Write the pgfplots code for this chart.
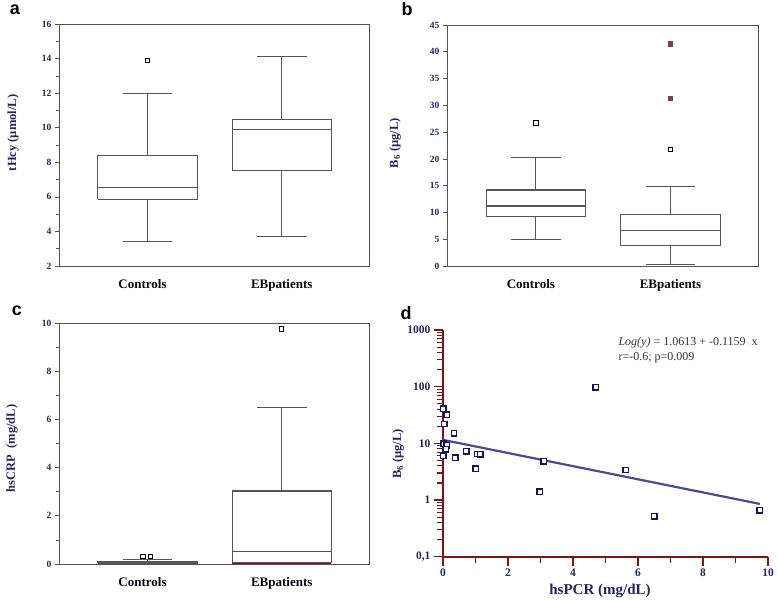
\documentclass[border=0pt]{standalone}
\usepackage{pgfplots}
\pgfplotsset{compat=1.18}
\usepackage{fontspec}
\setmainfont{Liberation Serif}
\newfontfamily\sansf{Liberation Sans}
\definecolor{navy}{RGB}{35,35,95}
\definecolor{boxc}{RGB}{85,85,85}
\definecolor{framec}{RGB}{95,75,80}
\definecolor{dred}{RGB}{125,20,20}
\definecolor{markc}{RGB}{20,20,100}
\definecolor{regc}{RGB}{72,76,145}
\definecolor{outred}{RGB}{135,60,60}
\pgfplotsset{
  boxpanel/.style={scale only axis, width=310pt, height=242pt,
    xmin=0.34, xmax=2.65, xtick={1,2}, xticklabels={\hspace*{-10pt}Controls,EBpatients},
    xtick style={draw=none},
    xticklabel style={font=\fontsize{13}{14}\selectfont\bfseries, text=black!80!navy, yshift=-6pt},
    ytick pos=left, tick align=outside,
    yticklabel style={font=\fontsize{9.5}{10}\selectfont\bfseries, text=navy},
    /pgf/number format/assume math mode=true,
    axis line style={framec, line width=0.9pt},
    ytick style={framec, line width=0.7pt},
    major tick length=4pt, minor tick length=3pt,
    ylabel style={font=\fontsize{12.5}{14}\selectfont\bfseries, text=navy, anchor=center},
    clip=false},
  bp/.style={draw=boxc, line width=1.1pt, solid, mark=none},
  outl/.style={only marks, mark=square*, mark size=2.1pt, mark options={draw=black, fill=white, line width=0.9pt}},
}
\begin{document}
\begin{tikzpicture}
\useasboundingbox (0,0) rectangle (778pt,-599pt);
% panel letters
\node[font=\sansf\bfseries\fontsize{18}{20}\selectfont] at (15pt,-10pt) {a};
\node[font=\sansf\bfseries\fontsize{18}{20}\selectfont] at (407pt,-9pt) {b};
\node[font=\sansf\bfseries\fontsize{18}{20}\selectfont] at (17pt,-311pt) {c};
\node[font=\sansf\bfseries\fontsize{18}{20}\selectfont] at (406pt,-313pt) {d};

% ---------- a ----------
\begin{axis}[boxpanel, at={(59pt,-266pt)}, anchor=south west,
  ymin=2, ymax=16, ytick={2,4,...,16}, minor ytick={3,5,...,15},
  ylabel={tHcy (µmol/L)}, ylabel style={at={(axis description cs:-0.148,0.55)}}]
% Controls: lw 3.4, q1 5.85, med 6.55, q3 8.4, uw 12.0
\addplot[bp] coordinates {(1,3.4) (1,5.85)};
\addplot[bp] coordinates {(1,8.4) (1,12.0)};
\addplot[bp] coordinates {(0.815,3.4) (1.185,3.4)};
\addplot[bp] coordinates {(0.815,12.0) (1.185,12.0)};
\addplot[bp, fill=white] coordinates {(0.63,5.85) (1.37,5.85) (1.37,8.4) (0.63,8.4) (0.63,5.85)};
\addplot[bp] coordinates {(0.63,6.55) (1.37,6.55)};
% EB: lw 3.7, q1 7.5, med 9.9, q3 10.5, uw 14.1
\addplot[bp] coordinates {(2,3.7) (2,7.5)};
\addplot[bp] coordinates {(2,10.5) (2,14.1)};
\addplot[bp] coordinates {(1.815,3.7) (2.185,3.7)};
\addplot[bp] coordinates {(1.815,14.1) (2.185,14.1)};
\addplot[bp, fill=white] coordinates {(1.63,7.5) (2.37,7.5) (2.37,10.5) (1.63,10.5) (1.63,7.5)};
\addplot[bp] coordinates {(1.63,9.9) (2.37,9.9)};
\addplot[outl] coordinates {(1,13.9)};
\end{axis}

% ---------- b ----------
\begin{axis}[boxpanel, at={(447pt,-266pt)}, anchor=south west, width=311pt, height=241pt,
  ymin=0, ymax=45, ytick={0,5,...,45},
  ylabel={B$_{\mathbf{6}}$ (µg/L)}, ylabel style={at={(axis description cs:-0.167,0.51)}}]
% Controls: lw 4.9, q1 9.2, med 11.2, q3 14.2, uw 20.2
\addplot[bp] coordinates {(1,4.9) (1,9.2)};
\addplot[bp] coordinates {(1,14.2) (1,20.2)};
\addplot[bp] coordinates {(0.815,4.9) (1.185,4.9)};
\addplot[bp] coordinates {(0.815,20.2) (1.185,20.2)};
\addplot[bp, fill=white] coordinates {(0.63,9.2) (1.37,9.2) (1.37,14.2) (0.63,14.2) (0.63,9.2)};
\addplot[bp] coordinates {(0.63,11.2) (1.37,11.2)};
% EB: lw 0.3, q1 3.8, med 6.6, q3 9.6, uw 14.8
\addplot[bp] coordinates {(2,0.3) (2,3.8)};
\addplot[bp] coordinates {(2,9.6) (2,14.8)};
\addplot[bp] coordinates {(1.815,0.3) (2.185,0.3)};
\addplot[bp] coordinates {(1.815,14.8) (2.185,14.8)};
\addplot[bp, fill=white] coordinates {(1.63,3.8) (2.37,3.8) (2.37,9.6) (1.63,9.6) (1.63,3.8)};
\addplot[bp] coordinates {(1.63,6.6) (2.37,6.6)};
\addplot[outl] coordinates {(1,26.7) (2,21.7)};
\addplot[only marks, mark=square*, mark size=2.1pt, mark options={draw=outred, fill=outred}] coordinates {(2,31.3) (2,41.5)};
\end{axis}

% ---------- c ----------
\begin{axis}[boxpanel, at={(59pt,-564pt)}, anchor=south west, height=241pt,
  ymin=0, ymax=10, ytick={0,2,...,10}, minor ytick={1,3,...,9},
  ylabel={hsCRP\ \ (mg/dL)}, ylabel style={at={(axis description cs:-0.152,0.48)}}]
% Controls: lw 0.01, q1 0.03, med 0.06, q3 0.10, uw 0.19
\addplot[bp] coordinates {(1,0.10) (1,0.19)};
\addplot[bp] coordinates {(0.815,0.19) (1.185,0.19)};
\addplot[bp, fill=white] coordinates {(0.63,0.03) (1.37,0.03) (1.37,0.10) (0.63,0.10) (0.63,0.03)};
\addplot[bp] coordinates {(0.63,0.06) (1.37,0.06)};
% EB: lw 0.02, q1 0.05, med 0.53, q3 3.03, uw 6.5
\addplot[bp] coordinates {(2,3.03) (2,6.5)};
\addplot[bp] coordinates {(1.815,6.5) (2.185,6.5)};
\addplot[bp, fill=white] coordinates {(1.63,0.05) (2.37,0.05) (2.37,3.03) (1.63,3.03) (1.63,0.05)};
\addplot[bp] coordinates {(1.63,0.53) (2.37,0.53)};
\addplot[draw=dred, line width=0.9pt] coordinates {(1.63,0.04) (2.37,0.04)};
\addplot[outl] coordinates {(0.965,0.33) (1.02,0.33) (2,9.75)};
\end{axis}

% ---------- d ----------
\begin{axis}[at={(443pt,-556.7pt)}, anchor=south west, scale only axis,
  width=325pt, height=226.7pt,
  xmin=0, xmax=10, ymin=0.1, ymax=1000, ymode=log,
  axis x line*=bottom, axis y line*=left,
  axis line style={dred, line width=2pt, -},
  every outer x axis line/.append style={-},
  every outer y axis line/.append style={-},
  xtick={0,2,...,10}, minor xtick={1,3,...,9},
  ytick={0.1,1,10,100,1000}, yticklabels={{0,1},1,10,100,1000},
  minor ytick={0.2,0.3,0.4,0.5,0.6,0.7,0.8,0.9,2,3,4,5,6,7,8,9,20,30,40,50,60,70,80,90,200,300,400,500,600,700,800,900},
  tick align=outside,
  every tick/.style={dred, line width=1.2pt},
  every minor tick/.style={dred, line width=1.1pt},
  major tick length=9pt, minor tick length=6pt,
  ticklabel style={font=\fontsize{11.5}{12}\selectfont\bfseries, text=navy},
  /pgf/number format/assume math mode=true,
  xlabel={hsPCR (mg/dL)}, ylabel={B$_{\mathbf{6}}$ (µg/L)},
  xlabel style={font=\fontsize{15}{16}\selectfont\bfseries, text=navy, at={(axis description cs:0.483,-0.15)}, anchor=center},
  ylabel style={font=\fontsize{12.5}{14}\selectfont\bfseries, text=navy, at={(axis description cs:-0.138,0.453)}, anchor=center},
  clip=false]
\addplot[regc, line width=2.2pt] coordinates {(0,11.52) (9.75,0.854)};
\addplot[only marks, mark=square*, mark size=2.7pt, mark options={draw=markc, fill=white, line width=1.4pt}] coordinates {
(0.01,41) (0.11,32) (0.04,22) (0.34,15) (0.02,9.8) (0.11,9.2) (0.08,7.8)
(0.01,6.0) (0.38,5.6) (0.72,7.3) (1.05,6.5) (1.15,6.4) (1.0,3.6)
(2.98,1.4) (3.1,4.8) (4.7,98) (5.62,3.4) (6.5,0.52) (9.75,0.66)};
\end{axis}
\node[anchor=west, font=\fontsize{12}{14}\selectfont, text=black!80] at (615pt,-343pt) {\textit{Log(y)} = 1.0613 + -0.1159\ \ x};
\node[anchor=west, font=\fontsize{12}{14}\selectfont, text=black!80] at (615pt,-358pt) {r=-0.6; p=0.009};
\end{tikzpicture}
\end{document}
